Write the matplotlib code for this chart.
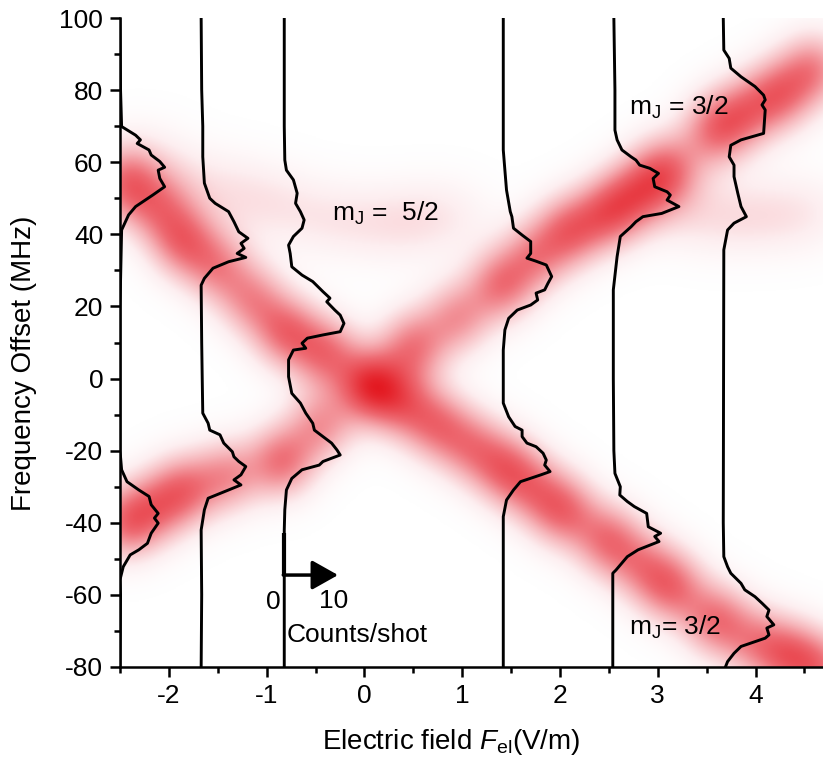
import numpy as np
import matplotlib
matplotlib.use('Agg')
import matplotlib.pyplot as plt
from matplotlib.colors import LinearSegmentedColormap
from matplotlib.ticker import MultipleLocator

plt.rcParams['font.family'] = ['Liberation Sans', 'DejaVu Sans']
plt.rcParams['mathtext.fontset'] = 'custom'
plt.rcParams['mathtext.rm'] = 'Liberation Sans'
plt.rcParams['mathtext.it'] = 'Liberation Sans:italic'
plt.rcParams['axes.unicode_minus'] = False

# electric field (V/m) at which each spectrum was taken
trace_fields = [-2.50, -1.67, -0.82, 1.42, 2.54, 3.67]
# 10 counts/shot corresponds to the scale arrow length in V/m
arrow_counts = 10
arrow_field = 0.55

# spectra: frequency offset (MHz) and counts/shot
t1_freq = [-80, -60, -55.8, -52.2, -48.9, -47.5, -45.7, -42.9, -40.1, -38.7, -37.4, -35.0, -32.7,
           -30.9, -28.6, -25.3, -20, 0, 20, 41.2, 45.4, 47.7, 50.9, 53.2, 55.5, 57.8, 58.6, 60.2,
           62.0, 63.4, 65.2, 66.2, 67.5, 69.9, 75, 80, 100]
t1_counts = [0, 0.1, 0, 0.6, 1.9, 3.5, 5.1, 5.8, 7.1, 6.4, 7.1, 5.8, 5.4,
             3.5, 1.3, 0.3, 0, 0, 0, 0.3, 1.6, 2.9, 6.1, 8.3, 7.4, 7.1, 8.3, 7.4,
             5.8, 5.4, 3.2, 3.8, 2.9, 0.3, 0.2, 0.1, 0]

t2_freq = [-80, -60, -42.0, -36.4, -33.2, -30.9, -29.5, -28.1, -26.7, -24.4, -23.0, -21.7, -20.3,
           -17.9, -15.6, -14.3, -12.4, -9.6, 0, 10, 25.9, 27.8, 30.6, 32.4, 33.6, 34.7, 36.1,
           37.5, 38.9, 40.7, 43.5, 46.3, 48.6, 50.0, 54.2, 61.5, 70, 80, 100]
t2_counts = [0, 0.1, 0, 0.6, 1.3, 5.1, 7.4, 6.1, 7.4, 8.3, 7.0, 6.1, 5.8,
             4.2, 3.5, 1.6, 1.3, 0.3, 0.2, 0.1, 0, 0.6, 2.2, 5.1, 8.3, 6.7, 8.0,
             7.4, 8.7, 7.0, 6.1, 5.1, 2.6, 1.6, 0.6, 0.3, 0.3, 0.1, 0]

t3_freq = [-80, -42, -36.4, -30.9, -27.7, -25.3, -24.0, -23.0, -21.2, -19.8, -17.9, -16.1, -14.3,
           -12.4, -9.6, -6.8, -4.1, 0.5, 5.2, 7.9, 8.4, 9.8, 11.2, 12.1, 13.0, 15.3, 17.6, 19.0,
           21.3, 22.3, 24.1, 26.9, 28.7, 31.0, 34.7, 37.0, 39.4, 41.7, 44.0, 46.3, 48.6, 51.4,
           55.1, 57.8, 60.6, 70, 100]
t3_counts = [0, 0, 0.1, 0.4, 1.4, 3.3, 6.5, 7.2, 10.4, 9.8, 8.8, 7.2, 5.6,
             5.3, 4.0, 3.0, 1.4, 0.8, 0.8, 1.7, 4.0, 3.3, 4.3, 7.2, 10.4, 11.1, 10.4, 9.4,
             7.9, 8.5, 7.2, 5.3, 3.3, 1.4, 1.1, 0.8, 1.7, 3.3, 3.7, 3.0, 2.1, 2.4,
             1.7, 0.4, 0.1, 0, 0]

t4_freq = [-80, -38.3, -33.7, -30.9, -28.6, -26.7, -25.8, -24.0, -22.6, -20.7, -18.9, -17.9, -16.1,
           -14.3, -13.3, -10.6, -6.8, 7.9, 13.5, 16.7, 19.0, 20.4, 21.8, 23.7, 24.6, 26.4, 28.3,
           31.5, 32.6, 33.4, 34.7, 38.0, 39.8, 41.7, 44.9, 46.3, 52.3, 57.8, 63.4, 100]
t4_counts = [0, 0, 0.6, 1.9, 3.2, 7.0, 8.7, 7.7, 8.0, 7.4, 6.1, 4.4, 3.5,
             3.5, 2.2, 1.0, 0, 0, 0.3, 1.0, 2.6, 5.1, 6.4, 6.1, 7.7, 8.3, 9.0,
             8.0, 6.0, 4.4, 5.1, 5.1, 3.5, 1.9, 1.6, 1.3, 0.6, 0.3, 0, 0]

t5_freq = [-80, -54, -53.1, -49.4, -47.5, -45.2, -43.8, -42.9, -41.1, -37.4, -35.5, -34.1, -32.3,
           -30.0, -26.3, -20, 0, 24.6, 33.8, 39.4, 42.1, 43.5, 44.9, 45.8, 47.7, 49.5, 50.9,
           51.8, 53.2, 55.5, 56.9, 58.3, 59.2, 60.6, 61.5, 63.4, 66.2, 68.9, 80, 100]
t5_counts = [0, 0, 0.6, 2.7, 4.7, 8.6, 7.8, 8.9, 6.6, 6.3, 4.0, 2.7, 1.3,
             1.4, 0.4, 0.2, 0.1, 0.1, 0.8, 1.4, 3.4, 4.3, 5.6, 9.1, 12.3, 10.1, 10.7,
             10.1, 7.8, 7.5, 8.5, 6.9, 5.0, 4.3, 3.4, 1.7, 0.8, 0.4, 0.4, 0.2]

t6_freq = [-80, -78.5, -76.2, -74.3, -72.0, -71.1, -69.2, -68.3, -66.0, -64.2, -62.3, -60.5, -58.6,
           -56.8, -54.0, -52.2, -49.4, -40, 35.7, 41.2, 43.1, 44.9, 47.7, 51.4, 56.0, 59.2, 61.5,
           64.7, 66.2, 68.0, 74.5, 75.9, 77.3, 78.6, 81.0, 83.7, 86.1, 88.8, 91.1, 100]
t6_counts = [0.4, 0.8, 2.0, 3.3, 7.8, 8.5, 8.1, 9.4, 8.1, 8.5, 7.2, 5.9, 4.0,
             3.3, 1.4, 0.8, 0.1, 0, 0.1, 0.8, 2.0, 4.3, 3.3, 2.7, 2.0, 2.0, 1.1,
             1.4, 3.3, 7.5, 7.8, 7.2, 7.8, 7.5, 5.9, 3.3, 1.4, 1.1, 0.1, 0]

# signal map: centres (field, frequency) and relative strength of the bright spots
band_a_x = [-2.45, -2.1, -1.85, -1.5, -1.15, -0.8, -0.4, 0.06, 0.4, 0.75, 1.1, 1.45, 1.75,
            2.05, 2.5, 2.85, 3.15, 3.6, 4.0, 4.35, 4.7]
band_a_y = [54, 47, 38, 31, 22, 13, 7, -2, -7, -13, -19, -25, -31,
            -37, -45, -52, -58, -67, -73, -77, -81]
band_a_amp = [0.5, 0.36, 0.5, 0.4, 0.4, 0.52, 0.5, 0.75, 0.43, 0.45, 0.4, 0.5, 0.36,
              0.5, 0.5, 0.36, 0.5, 0.5, 0.36, 0.5, 0.45]
band_b_x = [-2.45, -2.15, -1.85, -1.4, -0.85, -0.45, 0.5, 0.95, 1.4, 1.75, 2.1, 2.5, 2.8,
            3.1, 3.6, 3.9, 4.25, 4.6]
band_b_y = [-40, -36, -31, -27, -23, -13, 9, 17, 26, 34, 41, 46, 52,
            58, 69, 74, 79, 86]
band_b_amp = [0.5, 0.36, 0.48, 0.4, 0.52, 0.4, 0.48, 0.4, 0.5, 0.4, 0.52, 0.52, 0.4,
              0.5, 0.5, 0.4, 0.5, 0.45]
faint_x = [-2.3, -2.0, -1.4, -0.9, -0.3, 0.3, 0.8, 3.0, 3.5, 4.0, 4.5]
faint_y = [62, 55, 52, 48, 44, 43, 45, 50, 45, 45, 46]
faint_amp = [0.07, 0.1, 0.11, 0.11, 0.11, 0.12, 0.11, 0.1, 0.11, 0.11, 0.11]

xlim = (-2.5, 4.69)
ylim = (-80, 100)

fig = plt.figure(figsize=(8.23, 7.62), dpi=100)
ax = fig.add_axes([120 / 823, 95 / 762, 703 / 823, 649 / 762])

# smooth map from the spots
xg = np.linspace(xlim[0], xlim[1], 500)
yg = np.linspace(ylim[0], ylim[1], 600)
X, Y = np.meshgrid(xg, yg)
Z = np.zeros_like(X)
for bx, by, ba in zip(band_a_x + band_b_x, band_a_y + band_b_y, band_a_amp + band_b_amp):
    Z += ba * np.exp(-0.5 * (((X - bx) / 0.24) ** 2 + ((Y - by) / 7.0) ** 2))
for bx, by, ba in zip(faint_x, faint_y, faint_amp):
    Z += ba * np.exp(-0.5 * (((X - bx) / 0.35) ** 2 + ((Y - by) / 7.5) ** 2))
Z = np.clip(Z, 0, 1)

cmap = LinearSegmentedColormap.from_list(
    'wr', [(0, '#ffffff'), (0.12, '#fdeef0'), (0.35, '#f6b3b8'), (0.6, '#ee6b73'),
           (1.0, '#e3141c')])
ax.imshow(Z, extent=(xlim[0], xlim[1], ylim[0], ylim[1]), origin='lower', aspect='auto',
          cmap=cmap, vmin=0, vmax=1, interpolation='bilinear', zorder=0)

# spectra drawn on top of the map
scale = arrow_field / arrow_counts
traces = [(t1_freq, t1_counts), (t2_freq, t2_counts), (t3_freq, t3_counts),
          (t4_freq, t4_counts), (t5_freq, t5_counts), (t6_freq, t6_counts)]
for f0, (fr, cn) in zip(trace_fields, traces):
    ax.plot(f0 + np.array(cn) * scale, fr, color='k', lw=2.1, zorder=3)

# scale bar
x0 = trace_fields[2]
ax.plot([x0, x0], [-42.8, -54.5], color='k', lw=3.0, solid_capstyle='butt', zorder=4)
ax.annotate('', xy=(x0 + arrow_field, -54.5), xytext=(x0 - 0.01, -54.5),
            arrowprops=dict(arrowstyle='-|>,head_length=0.8,head_width=0.45',
                            lw=2.5, color='k', mutation_scale=20, shrinkA=0, shrinkB=0),
            zorder=4)
ax.text(-0.935, -61.9, '0', fontsize=19, ha='center', va='center')
ax.text(-0.32, -61.6, '10', fontsize=19, ha='center', va='center')
ax.text(-0.80, -71.1, 'Counts/shot', fontsize=19, ha='left', va='center')

# state labels
ax.text(-0.33, 43.7, r'm$_\mathrm{J}$ =  5/2', fontsize=19, ha='left', va='baseline')
ax.text(2.71, 73.1, r'm$_\mathrm{J}$ = 3/2', fontsize=19, ha='left', va='baseline')
ax.text(2.71, -71.1, r'm$_\mathrm{J}$= 3/2', fontsize=19, ha='left', va='baseline')

ax.set_xlim(*xlim)
ax.set_ylim(*ylim)
ax.xaxis.set_major_locator(MultipleLocator(1))
ax.xaxis.set_minor_locator(MultipleLocator(0.5))
ax.yaxis.set_major_locator(MultipleLocator(20))
ax.yaxis.set_minor_locator(MultipleLocator(10))
ax.spines['top'].set_visible(False)
ax.spines['right'].set_visible(False)
for s in ['left', 'bottom']:
    ax.spines[s].set_linewidth(1.8)
    ax.spines[s].set_zorder(5)
ax.tick_params(which='major', direction='out', length=7, width=1.8, labelsize=19, pad=5)
ax.tick_params(which='minor', direction='out', length=4, width=1.8)

ax.set_xlabel(r'Electric field $\mathit{F}_{\mathrm{el}}$(V/m)', fontsize=20, va='center')
ax.set_ylabel('Frequency Offset (MHz)', fontsize=20, va='center')
ax.xaxis.set_label_coords(0.471, -0.116)
ax.yaxis.set_label_coords(-0.137, 0.468)

fig.savefig('out.png', dpi=100)
